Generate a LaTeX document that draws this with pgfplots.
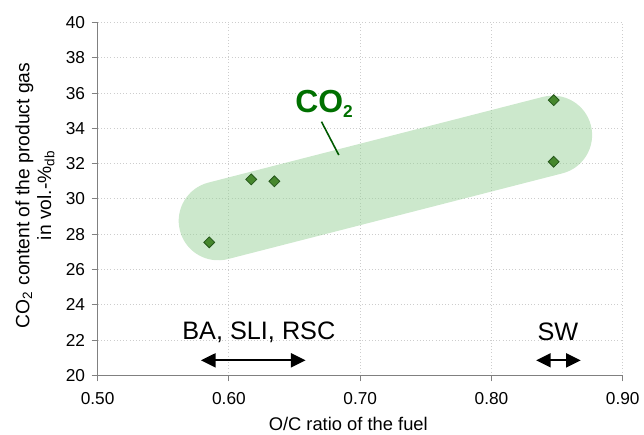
\documentclass[border=0pt]{standalone}
\usepackage{fontspec}
\setmainfont{Liberation Sans}
\usepackage{pgfplots}
\pgfplotsset{compat=1.18}
\usetikzlibrary{arrows.meta}

\definecolor{capsule}{RGB}{153,209,153}
\definecolor{markfill}{RGB}{70,135,45}
\definecolor{markdraw}{RGB}{35,85,25}
\definecolor{co2green}{RGB}{0,112,0}
\definecolor{axgray}{RGB}{128,128,128}
\definecolor{gridgray}{RGB}{205,205,205}

\begin{document}
\begin{tikzpicture}
\begin{axis}[
    name=ax,
    scale only axis,
    width=395.25pt,
    height=265.5pt,
    xmin=0.5, xmax=0.9,
    ymin=20, ymax=40,
    xtick={0.5,0.6,0.7,0.8,0.9},
    ytick={20,22,...,40},
    axis x line*=bottom,
    axis y line*=left,
    axis line style={axgray, line width=0.8pt},
    tick style={axgray, line width=0.8pt},
    tick align=outside,
    major tick length=4.5pt,
    grid=major,
    major grid style={gridgray, dotted, line width=0.7pt},
    /pgf/number format/assume math mode=true,
    xticklabel style={/pgf/number format/fixed, /pgf/number format/fixed zerofill,
        /pgf/number format/precision=2, yshift=-5pt},
    yticklabel style={xshift=-1.5pt},
    ticklabel style={font=\fontsize{13}{15}\selectfont},
    xlabel={O/C ratio of the fuel},
    xlabel style={font=\fontsize{13.8}{16}\selectfont, at={(axis description cs:0.5,0)},
        anchor=base, xshift=-9pt, yshift=-41.25pt},
    ylabel={CO\textsubscript{2} content of the product gas\\in vol.-\%\textsubscript{db}},
    ylabel style={font=\fontsize{14.5}{16.5}\selectfont, align=center,
        at={(axis description cs:-0.1195,0.51)}, anchor=center},
    clip=false,
]
% shaded band
\addplot[draw=capsule, draw opacity=0.5, line width=59.4pt, line cap=round]
    coordinates {(0.5918,28.76) (0.8466,33.62)};

% measurements
\addplot[only marks, mark=square*, mark size=2.9pt,
    mark options={rotate=45, fill=markfill, draw=markdraw, line width=0.6pt}]
    coordinates {
    (0.585,27.54)
    (0.617,31.11)
    (0.6346,31.00)
    (0.8474,35.60)
    (0.8474,32.11)
};

% fuel ranges
\addplot[black, line width=1.5pt,
    {Triangle[length=11pt,width=10.5pt]}-{Triangle[length=11pt,width=10.5pt]}]
    coordinates {(0.5787,20.85) (0.6584,20.85)};
\addplot[black, line width=1.5pt,
    {Triangle[length=11pt,width=10.5pt]}-{Triangle[length=11pt,width=10.5pt]}]
    coordinates {(0.834,20.85) (0.868,20.85)};

% CO2 pointer
\addplot[co2green!80!black, line width=1.2pt]
    coordinates {(0.6705,34.38) (0.6837,32.49)};

\node[font=\fontsize{19}{22}\selectfont] at (axis cs:0.6228,22.45) {BA, SLI, RSC};
\node[font=\fontsize{19}{22}\selectfont] at (axis cs:0.8506,22.45) {SW};
\node[font=\bfseries\fontsize{24}{28}\selectfont, text=co2green]
    at (axis cs:0.6725,35.41) {CO\raisebox{-3.75pt}{\fontsize{13}{13}\selectfont 2}};
\end{axis}
\path ([xshift=-73.5pt,yshift=-43.7pt]ax.south west) rectangle ([xshift=14.25pt,yshift=17pt]ax.north east);
\end{tikzpicture}
\end{document}
